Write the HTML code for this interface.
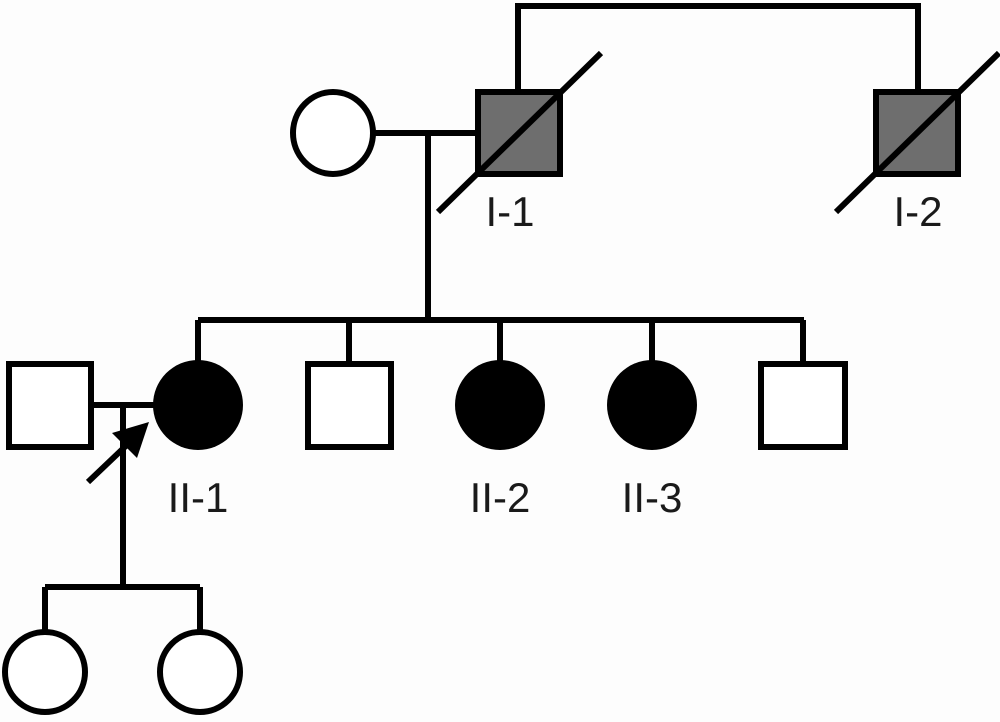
<!DOCTYPE html>
<html><head><meta charset="utf-8"><style>
html,body{margin:0;padding:0;background:#fff;}
svg{display:block}
text{font-family:"Liberation Sans",sans-serif;font-size:42px;fill:#1a1a1a;text-anchor:middle}
</style></head><body>
<svg width="1000" height="722" viewBox="0 0 1000 722" xmlns="http://www.w3.org/2000/svg">
<rect width="1000" height="722" fill="#fdfdfd"/>
<g stroke="#000" stroke-width="6" fill="none">
<polyline points="518,92 518,6 918,6 918,92"/>
<line x1="373" y1="133" x2="478" y2="133"/>
<line x1="428" y1="133" x2="428" y2="320"/>
<line x1="198" y1="320" x2="804" y2="320"/>
<line x1="198" y1="320" x2="198" y2="362"/>
<line x1="349" y1="320" x2="349" y2="362"/>
<line x1="500" y1="320" x2="500" y2="362"/>
<line x1="652" y1="320" x2="652" y2="362"/>
<line x1="803" y1="320" x2="803" y2="362"/>
<ellipse cx="333" cy="133" rx="40" ry="41" fill="#fff"/>
<rect x="478" y="92" width="82" height="82" fill="#6e6e6e"/>
<rect x="876" y="92" width="82" height="82" fill="#6e6e6e"/>
<line x1="438" y1="212" x2="601" y2="53"/>
<line x1="836" y1="212" x2="999" y2="53"/>
<rect x="9" y="364" width="82" height="83" fill="#fff"/>
<line x1="91" y1="405" x2="154" y2="405"/>
<line x1="123" y1="405" x2="123" y2="587"/>
<line x1="45" y1="587" x2="200" y2="587"/>
<line x1="45" y1="587" x2="45" y2="632"/>
<line x1="200" y1="587" x2="200" y2="632"/>
<circle cx="45" cy="672" r="40" fill="#fff"/>
<circle cx="200" cy="672" r="40" fill="#fff"/>
<rect x="308" y="364" width="83" height="83" fill="#fff"/>
<rect x="761" y="364" width="84" height="83" fill="#fff"/>
<line x1="88" y1="482" x2="130" y2="442"/>
</g>
<circle cx="198" cy="405" r="45" fill="#000"/>
<circle cx="500" cy="405" r="45" fill="#000"/>
<circle cx="652" cy="405" r="45" fill="#000"/>
<polygon points="149,422 112,433 137,458" fill="#000"/>
<text x="510" y="226">I-1</text>
<text x="918" y="226">I-2</text>
<text x="198" y="512">II-1</text>
<text x="500" y="512">II-2</text>
<text x="652" y="512">II-3</text>
</svg>
</body></html>
